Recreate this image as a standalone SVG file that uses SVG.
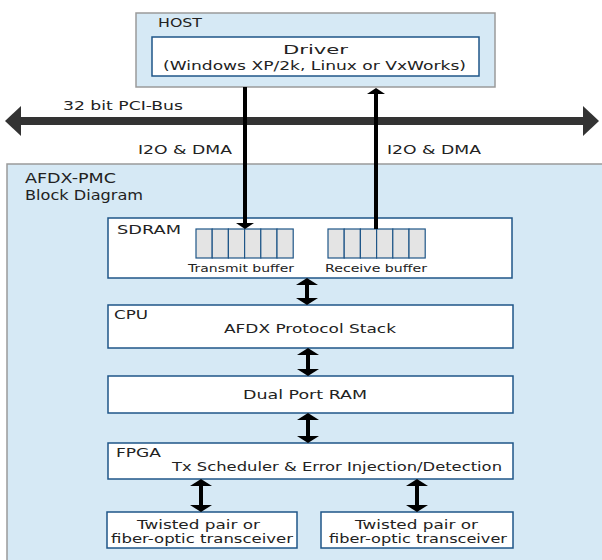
<svg xmlns="http://www.w3.org/2000/svg" width="602" height="560" viewBox="0 0 602 560">
<style>
.panel{fill:#d6e9f5;stroke:#9a9a9a;stroke-width:1.5}
.box{fill:#ffffff;stroke:#1f5688;stroke-width:1.5}
.cell{fill:#e4e4e4;stroke:#1f5688;stroke-width:1.2}
text{font-family:"DejaVu Sans","Liberation Sans",sans-serif;fill:#222;font-size:13px}
.sm{font-size:11px}
.lg{font-size:14px}
.tr{font-size:11.5px}
.shaft{stroke:#000;stroke-width:4;fill:none}
.head{fill:#000}
</style>
<rect width="602" height="560" fill="#ffffff"/>
<g id="host">
<rect class="panel" x="136" y="13" width="359" height="74"/>
<text x="158" y="27" textLength="44" lengthAdjust="spacingAndGlyphs">HOST</text>
</g>
<g id="driver">
<rect class="box" x="152" y="37" width="327" height="39"/>
<text x="283" y="54" textLength="65" lengthAdjust="spacingAndGlyphs">Driver</text>
<text x="163" y="70" textLength="303" lengthAdjust="spacingAndGlyphs">(Windows XP/2k, Linux or VxWorks)</text>
</g>
<g id="pci-bus">
<line x1="18" y1="121" x2="584" y2="121" stroke="#333" stroke-width="8"/>
<polygon points="5,121 21,106 21,136" fill="#333"/>
<polygon points="599,121 583,106 583,136" fill="#333"/>
<text x="63" y="110" textLength="120" lengthAdjust="spacingAndGlyphs">32 bit PCI-Bus</text>
</g>
<g id="afdx">
<rect class="panel" x="7" y="164" width="600" height="400"/>
<text class="lg" x="25" y="183" textLength="91" lengthAdjust="spacingAndGlyphs">AFDX-PMC</text>
<text class="lg" x="25" y="200" textLength="118" lengthAdjust="spacingAndGlyphs">Block Diagram</text>
</g>
<g id="sdram">
<rect class="box" x="108" y="218" width="404" height="60"/>
<text x="117" y="234" textLength="64" lengthAdjust="spacingAndGlyphs">SDRAM</text>
<g id="transmit-buffer">
<rect class="cell" x="196" y="229" width="16.2" height="29"/>
<rect class="cell" x="212.2" y="229" width="16.2" height="29"/>
<rect class="cell" x="228.4" y="229" width="16.2" height="29"/>
<rect class="cell" x="244.6" y="229" width="16.2" height="29"/>
<rect class="cell" x="260.8" y="229" width="16.2" height="29"/>
<rect class="cell" x="277" y="229" width="16.2" height="29"/>
<text class="sm" x="188" y="272" textLength="106" lengthAdjust="spacingAndGlyphs">Transmit buffer</text>
</g>
<g id="receive-buffer">
<rect class="cell" x="328" y="229" width="16.2" height="29"/>
<rect class="cell" x="344.2" y="229" width="16.2" height="29"/>
<rect class="cell" x="360.4" y="229" width="16.2" height="29"/>
<rect class="cell" x="376.6" y="229" width="16.2" height="29"/>
<rect class="cell" x="392.8" y="229" width="16.2" height="29"/>
<rect class="cell" x="409" y="229" width="16.2" height="29"/>
<text class="sm" x="325" y="272" textLength="102" lengthAdjust="spacingAndGlyphs">Receive buffer</text>
</g>
</g>
<g id="cpu">
<rect class="box" x="108" y="305" width="405" height="43"/>
<text x="114" y="319" textLength="34" lengthAdjust="spacingAndGlyphs">CPU</text>
<text x="224" y="333" textLength="172" lengthAdjust="spacingAndGlyphs">AFDX Protocol Stack</text>
</g>
<g id="dpram">
<rect class="box" x="108" y="376" width="405" height="37"/>
<text x="243" y="399" textLength="124" lengthAdjust="spacingAndGlyphs">Dual Port RAM</text>
</g>
<g id="fpga">
<rect class="box" x="108" y="443" width="405" height="36"/>
<text x="116" y="457" textLength="45" lengthAdjust="spacingAndGlyphs">FPGA</text>
<text x="172" y="471" textLength="330" lengthAdjust="spacingAndGlyphs">Tx Scheduler &amp; Error Injection/Detection</text>
</g>
<g id="transceiver1">
<rect class="box" x="107" y="512" width="190" height="36"/>
<text class="tr" x="137" y="529" textLength="123" lengthAdjust="spacingAndGlyphs">Twisted pair or</text>
<text class="tr" x="111" y="543" textLength="182" lengthAdjust="spacingAndGlyphs">fiber-optic transceiver</text>
</g>
<g id="transceiver2">
<rect class="box" x="321" y="512" width="192" height="36"/>
<text class="tr" x="355" y="529" textLength="123" lengthAdjust="spacingAndGlyphs">Twisted pair or</text>
<text class="tr" x="329" y="543" textLength="178" lengthAdjust="spacingAndGlyphs">fiber-optic transceiver</text>
</g>
<g id="connectors">
<line class="shaft" x1="245" y1="87" x2="245" y2="224"/>
<polygon class="head" points="245,229 236,223 254,223"/>
<text x="138" y="154" textLength="94" lengthAdjust="spacingAndGlyphs">I2O &amp; DMA</text>
<line class="shaft" x1="376" y1="229" x2="376" y2="93"/>
<polygon class="head" points="376,88 367,94 385,94"/>
<text x="387" y="154" textLength="94" lengthAdjust="spacingAndGlyphs">I2O &amp; DMA</text>
<line class="shaft" x1="307" y1="283" x2="307" y2="300"/>
<polygon class="head" points="307,278 296,285 318,285"/>
<polygon class="head" points="307,305 296,298 318,298"/>
<line class="shaft" x1="308" y1="353" x2="308" y2="371"/>
<polygon class="head" points="308,348 297,355 319,355"/>
<polygon class="head" points="308,376 297,369 319,369"/>
<line class="shaft" x1="308" y1="418" x2="308" y2="438"/>
<polygon class="head" points="308,413 297,420 319,420"/>
<polygon class="head" points="308,443 297,436 319,436"/>
<line class="shaft" x1="201" y1="484" x2="201" y2="507"/>
<polygon class="head" points="201,479 190,486 212,486"/>
<polygon class="head" points="201,512 190,505 212,505"/>
<line class="shaft" x1="417" y1="484" x2="417" y2="507"/>
<polygon class="head" points="417,479 406,486 428,486"/>
<polygon class="head" points="417,512 406,505 428,505"/>
</g>
</svg>
